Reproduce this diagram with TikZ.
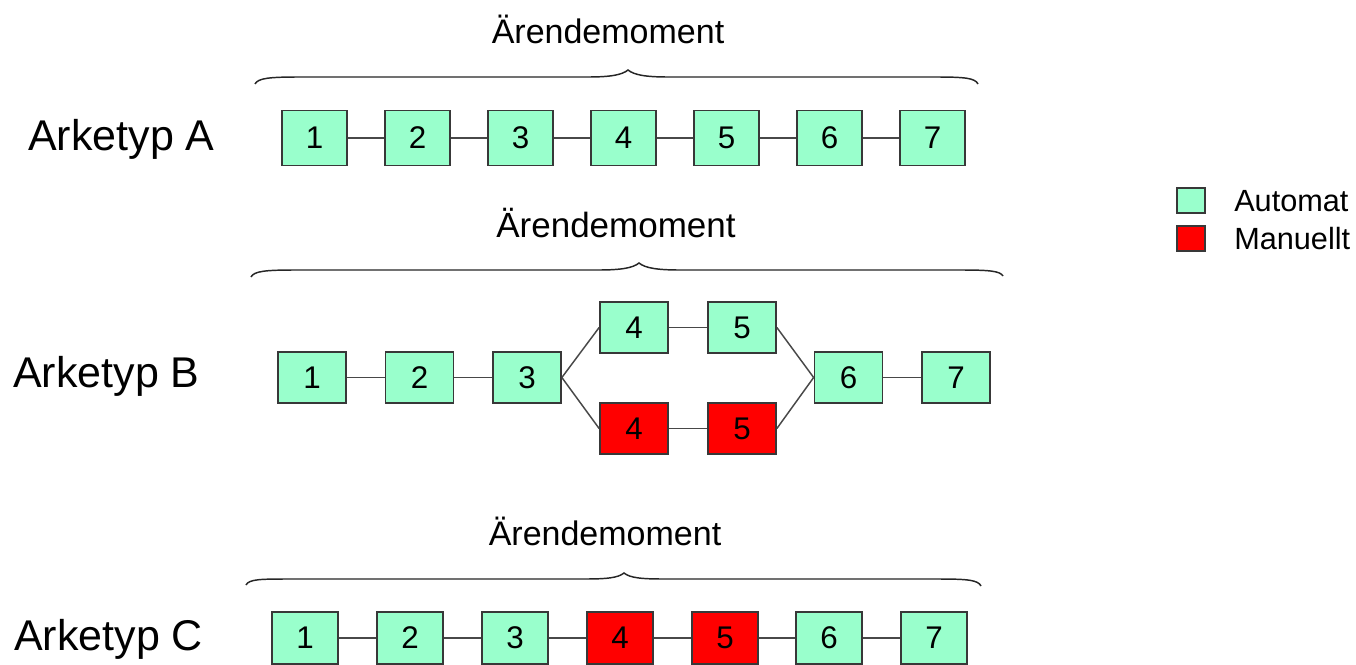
\documentclass[tikz,border=0pt]{standalone}
\usepackage{fontspec}
\setmainfont{Liberation Sans}
\definecolor{auto}{HTML}{99FFCC}
\definecolor{manu}{HTML}{FF0000}
\definecolor{edge}{HTML}{383838}
\definecolor{conn}{HTML}{484848}
\tikzset{
  boxA/.style={draw=edge, line width=1.3pt, fill=auto, inner sep=0pt, minimum width=48.75pt, minimum height=41.25pt, font=\fontsize{23.5pt}{25pt}\selectfont},
  boxB/.style={boxA, minimum width=51pt, minimum height=38.25pt},
  boxC/.style={boxA, minimum width=49.5pt, minimum height=39pt},
  red/.style={fill=manu},
  conn/.style={draw=conn, line width=1.1pt},
  brace/.style={draw=black!85, line width=1.1pt},
  title/.style={anchor=base, inner sep=0pt, font=\fontsize{25.5pt}{27pt}\selectfont},
  arke/.style={anchor=base west, inner sep=0pt, font=\fontsize{32.25pt}{34pt}\selectfont},
  legbox/.style={draw=edge, line width=1.2pt, inner sep=0pt, minimum width=21pt, minimum height=18.75pt},
  legtext/.style={anchor=base west, inner sep=0pt, font=\fontsize{23pt}{25pt}\selectfont}
}
\begin{document}
\begin{tikzpicture}[x=0.75pt,y=-0.75pt]
\useasboundingbox (0,0) rectangle (1356,664);
\fill[white] (0,0) rectangle (1356,664);

% ---------- Arketyp A ----------
\node[title] (tA) at (608,43) {Ärendemoment};
\draw[brace] (255,84) .. controls (258,78) and (270,77) .. (300,77) -- (588,77)
  .. controls (610,77) and (622,75) .. (628,70) .. controls (634,75) and (646,77) .. (668,77)
  -- (935,77) .. controls (965,77) and (975,78) .. (978,84);
\node[arke] (lA) at (28,150) {Arketyp A};
\foreach \i/\x in {1/314.5,2/417.5,3/520.5,4/623.5,5/726.5,6/829.5,7/932.5}
  \node[boxA] (a\i) at (\x,138) {\i};
\foreach \i/\j in {1/2,2/3,3/4,4/5,5/6,6/7}
  \draw[conn] (a\i) -- (a\j);

% ---------- Arketyp B ----------
\node[title, font=\fontsize{26.25pt}{28pt}\selectfont] (tB) at (616,237) {Ärendemoment};
\draw[brace] (251,277) .. controls (254,271) and (266,270) .. (296,270) -- (598,270)
  .. controls (621,270) and (633,268) .. (639,263) .. controls (645,268) and (657,270) .. (680,270)
  -- (960,270) .. controls (990,270) and (1000,271) .. (1003,276);
\node[arke] (lB) at (13,387) {Arketyp B};
\foreach \i/\x in {1/312,2/419.5,3/527,6/848.5,7/956}
  \node[boxB] (b\i) at (\x,377.5) {\i};
\node[boxB] (b4u) at (634,327.5) {4};
\node[boxB] (b5u) at (742,327.5) {5};
\node[boxB, red] (b4d) at (634,428.5) {4};
\node[boxB, red] (b5d) at (742,428.5) {5};
\draw[conn] (b1) -- (b2);
\draw[conn] (b2) -- (b3);
\draw[conn] (b3.east) -- (b4u.west);
\draw[conn] (b3.east) -- (b4d.west);
\draw[conn] (b4u) -- (b5u);
\draw[conn] (b4d) -- (b5d);
\draw[conn] (b5u.east) -- (b6.west);
\draw[conn] (b5d.east) -- (b6.west);
\draw[conn] (b6) -- (b7);

% ---------- Arketyp C ----------
\node[title] (tC) at (605,545) {Ärendemoment};
\draw[brace] (246,585) .. controls (249,579) and (261,579) .. (291,579) -- (584,579)
  .. controls (606,579) and (618,578) .. (624,573) .. controls (630,578) and (642,579) .. (664,579)
  -- (938,579) .. controls (968,579) and (978,580) .. (981,586);
\node[arke] (lC) at (14,650) {Arketyp C};
\foreach \i/\x in {1/305,2/410,3/515,6/829,7/934}
  \node[boxC] (c\i) at (\x,638) {\i};
\node[boxC, red] (c4) at (620,638) {4};
\node[boxC, red] (c5) at (725,638) {5};
\foreach \i/\j in {1/2,2/3,3/4,4/5,5/6,6/7}
  \draw[conn] (c\i) -- (c\j);

% ---------- Legend ----------
\node[legbox, fill=auto] (lg1) at (1191,200.5) {};
\node[legbox, fill=manu] (lg2) at (1191,238.5) {};
\node[legtext] (lt1) at (1234,211) {Automat};
\node[legtext] (lt2) at (1234,249) {Manuellt};
\end{tikzpicture}
\end{document}
